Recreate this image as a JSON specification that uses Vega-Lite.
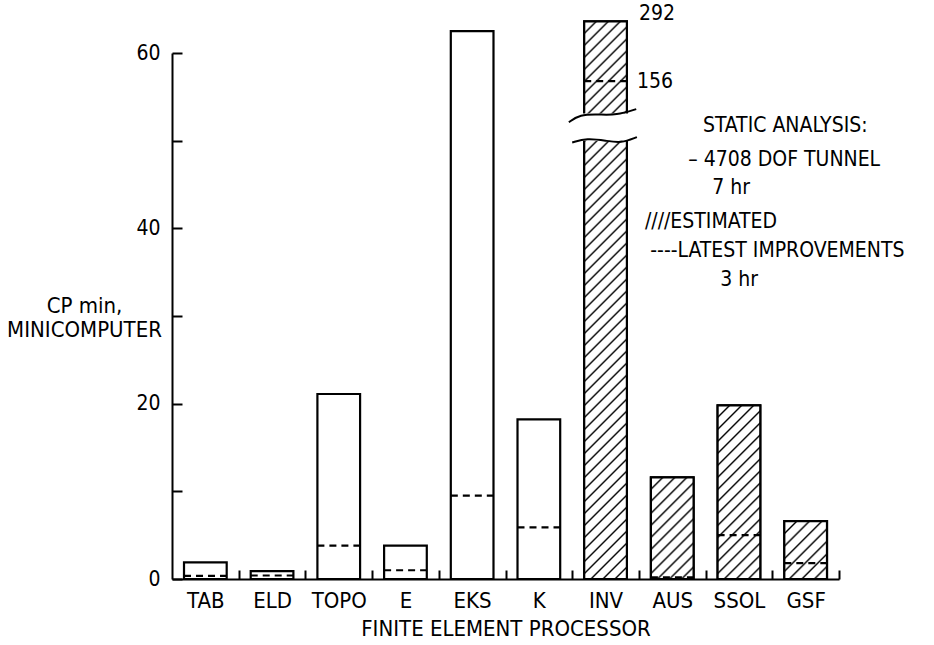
{
  "$schema": "https://vega.github.io/schema/vega-lite/v6.json",
  "width": 667,
  "height": 526,
  "autosize": {"type": "none"},
  "padding": {"left": 172, "top": 53, "right": 95, "bottom": 66},
  "background": "white",
  "config": {
    "view": {"stroke": null},
    "font": "Liberation Sans Narrow, DejaVu Sans Condensed, sans-serif",
    "axis": {
      "domainColor": "black", "domainWidth": 2, "tickColor": "black", "tickWidth": 2,
      "labelColor": "black", "titleColor": "black", "grid": false,
      "labelFont": "Liberation Sans Narrow, DejaVu Sans Condensed, sans-serif",
      "titleFont": "Liberation Sans Narrow, DejaVu Sans Condensed, sans-serif",
      "titleFontWeight": "normal"
    }
  },
  "datasets": {
    "bars": [
      {"name": "TAB", "value": 1.9, "latest": 0.35},
      {"name": "ELD", "value": 0.9, "latest": 0.4},
      {"name": "TOPO", "value": 21.1, "latest": 3.8},
      {"name": "E", "value": 3.8, "latest": 1.0},
      {"name": "EKS", "value": 62.5, "latest": 9.5},
      {"name": "K", "value": 18.2, "latest": 5.9},
      {"name": "INV", "value": 63.6, "latest": 56.8, "break_lo": 50.2, "break_hi": 52.9},
      {"name": "AUS", "value": 11.6, "latest": 0.2},
      {"name": "SSOL", "value": 19.8, "latest": 5.0},
      {"name": "GSF", "value": 6.6, "latest": 1.8}
    ],
    "waves": [
      {"wave": "upper", "pos": 5.95, "v": 52.1},
      {"wave": "upper", "pos": 6.11, "v": 53.0},
      {"wave": "upper", "pos": 6.41, "v": 53.0},
      {"wave": "upper", "pos": 6.66, "v": 52.9},
      {"wave": "upper", "pos": 6.96, "v": 53.6},
      {"wave": "lower", "pos": 6.0, "v": 49.8},
      {"wave": "lower", "pos": 6.22, "v": 50.3},
      {"wave": "lower", "pos": 6.51, "v": 50.0},
      {"wave": "lower", "pos": 6.73, "v": 49.7},
      {"wave": "lower", "pos": 6.97, "v": 50.4}
    ],
    "notes": [
      {"text": "292", "pos": 7.0, "v": 64.45},
      {"text": "156", "pos": 6.97, "v": 56.7},
      {"text": "STATIC ANALYSIS:", "pos": 7.96, "v": 51.7},
      {"text": "– 4708 DOF TUNNEL", "pos": 7.74, "v": 47.8},
      {"text": "7 hr", "pos": 8.1, "v": 44.6},
      {"text": "////ESTIMATED", "pos": 7.09, "v": 40.7},
      {"text": "----LATEST IMPROVEMENTS", "pos": 7.17, "v": 37.4},
      {"text": "3 hr", "pos": 8.22, "v": 34.1}
    ]
  },
  "resolve": {"scale": {"x": "independent"}},
  "layer": [
    {
      "data": {"name": "bars"},
      "encoding": {
        "x": {
          "field": "name", "type": "nominal", "sort": null,
          "scale": {"paddingInner": 0.36, "paddingOuter": 0.18},
          "axis": {
            "title": "FINITE ELEMENT PROCESSOR", "titleFontSize": 22,
            "titleBaseline": "alphabetic", "titleY": 56,
            "labelAngle": 0, "labelFontSize": 22, "labelPadding": 20,
            "tickOffset": 33.35, "labelOffset": -33.35, "tickSize": -9
          }
        },
        "y": {
          "field": "value", "type": "quantitative",
          "scale": {"domain": [0, 60]},
          "axis": {
            "values": [0, 10, 20, 30, 40, 50, 60],
            "labelExpr": "datum.value % 20 === 0 ? datum.label : ''",
            "labelFontSize": 21, "labelPadding": 22, "tickSize": -10,
            "title": ["CP min,", "MINICOMPUTER"], "titleAngle": 0, "titleAlign": "center",
            "titleBaseline": "alphabetic", "titleX": -88, "titleY": 259,
            "titleFontSize": 22, "titleLineHeight": 24
          }
        }
      },
      "layer": [
        {"mark": {"type": "bar", "fill": "white", "stroke": "black", "strokeWidth": 2.2}},
        {
          "transform": [{"filter": "datum.name === 'INV'"}],
          "mark": {"type": "bar", "stroke": "black", "strokeWidth": 2.2,
            "fill": {"gradient": "linear", "x1": 0, "y1": 0, "x2": 0.0819, "y2": 1.0703, "stops": [
              {"offset": 0, "color": "#fff"},
              {"offset": 0.0167, "color": "#fff"}, {"offset": 0.02, "color": "#000"}, {"offset": 0.0233, "color": "#fff"},
              {"offset": 0.0367, "color": "#fff"}, {"offset": 0.04, "color": "#000"}, {"offset": 0.0433, "color": "#fff"},
              {"offset": 0.0567, "color": "#fff"}, {"offset": 0.06, "color": "#000"}, {"offset": 0.0633, "color": "#fff"},
              {"offset": 0.0767, "color": "#fff"}, {"offset": 0.08, "color": "#000"}, {"offset": 0.0833, "color": "#fff"},
              {"offset": 0.0967, "color": "#fff"}, {"offset": 0.1, "color": "#000"}, {"offset": 0.1033, "color": "#fff"},
              {"offset": 0.1167, "color": "#fff"}, {"offset": 0.12, "color": "#000"}, {"offset": 0.1233, "color": "#fff"},
              {"offset": 0.1367, "color": "#fff"}, {"offset": 0.14, "color": "#000"}, {"offset": 0.1433, "color": "#fff"},
              {"offset": 0.1567, "color": "#fff"}, {"offset": 0.16, "color": "#000"}, {"offset": 0.1633, "color": "#fff"},
              {"offset": 0.1767, "color": "#fff"}, {"offset": 0.18, "color": "#000"}, {"offset": 0.1833, "color": "#fff"},
              {"offset": 0.1967, "color": "#fff"}, {"offset": 0.2, "color": "#000"}, {"offset": 0.2033, "color": "#fff"},
              {"offset": 0.2167, "color": "#fff"}, {"offset": 0.22, "color": "#000"}, {"offset": 0.2233, "color": "#fff"},
              {"offset": 0.2367, "color": "#fff"}, {"offset": 0.24, "color": "#000"}, {"offset": 0.2433, "color": "#fff"},
              {"offset": 0.2567, "color": "#fff"}, {"offset": 0.26, "color": "#000"}, {"offset": 0.2633, "color": "#fff"},
              {"offset": 0.2767, "color": "#fff"}, {"offset": 0.28, "color": "#000"}, {"offset": 0.2833, "color": "#fff"},
              {"offset": 0.2967, "color": "#fff"}, {"offset": 0.3, "color": "#000"}, {"offset": 0.3033, "color": "#fff"},
              {"offset": 0.3167, "color": "#fff"}, {"offset": 0.32, "color": "#000"}, {"offset": 0.3233, "color": "#fff"},
              {"offset": 0.3367, "color": "#fff"}, {"offset": 0.34, "color": "#000"}, {"offset": 0.3433, "color": "#fff"},
              {"offset": 0.3567, "color": "#fff"}, {"offset": 0.36, "color": "#000"}, {"offset": 0.3633, "color": "#fff"},
              {"offset": 0.3767, "color": "#fff"}, {"offset": 0.38, "color": "#000"}, {"offset": 0.3833, "color": "#fff"},
              {"offset": 0.3967, "color": "#fff"}, {"offset": 0.4, "color": "#000"}, {"offset": 0.4033, "color": "#fff"},
              {"offset": 0.4167, "color": "#fff"}, {"offset": 0.42, "color": "#000"}, {"offset": 0.4233, "color": "#fff"},
              {"offset": 0.4367, "color": "#fff"}, {"offset": 0.44, "color": "#000"}, {"offset": 0.4433, "color": "#fff"},
              {"offset": 0.4567, "color": "#fff"}, {"offset": 0.46, "color": "#000"}, {"offset": 0.4633, "color": "#fff"},
              {"offset": 0.4767, "color": "#fff"}, {"offset": 0.48, "color": "#000"}, {"offset": 0.4833, "color": "#fff"},
              {"offset": 0.4967, "color": "#fff"}, {"offset": 0.5, "color": "#000"}, {"offset": 0.5033, "color": "#fff"},
              {"offset": 0.5167, "color": "#fff"}, {"offset": 0.52, "color": "#000"}, {"offset": 0.5233, "color": "#fff"},
              {"offset": 0.5367, "color": "#fff"}, {"offset": 0.54, "color": "#000"}, {"offset": 0.5433, "color": "#fff"},
              {"offset": 0.5567, "color": "#fff"}, {"offset": 0.56, "color": "#000"}, {"offset": 0.5633, "color": "#fff"},
              {"offset": 0.5767, "color": "#fff"}, {"offset": 0.58, "color": "#000"}, {"offset": 0.5833, "color": "#fff"},
              {"offset": 0.5967, "color": "#fff"}, {"offset": 0.6, "color": "#000"}, {"offset": 0.6033, "color": "#fff"},
              {"offset": 0.6167, "color": "#fff"}, {"offset": 0.62, "color": "#000"}, {"offset": 0.6233, "color": "#fff"},
              {"offset": 0.6367, "color": "#fff"}, {"offset": 0.64, "color": "#000"}, {"offset": 0.6433, "color": "#fff"},
              {"offset": 0.6567, "color": "#fff"}, {"offset": 0.66, "color": "#000"}, {"offset": 0.6633, "color": "#fff"},
              {"offset": 0.6767, "color": "#fff"}, {"offset": 0.68, "color": "#000"}, {"offset": 0.6833, "color": "#fff"},
              {"offset": 0.6967, "color": "#fff"}, {"offset": 0.7, "color": "#000"}, {"offset": 0.7033, "color": "#fff"},
              {"offset": 0.7167, "color": "#fff"}, {"offset": 0.72, "color": "#000"}, {"offset": 0.7233, "color": "#fff"},
              {"offset": 0.7367, "color": "#fff"}, {"offset": 0.74, "color": "#000"}, {"offset": 0.7433, "color": "#fff"},
              {"offset": 0.7567, "color": "#fff"}, {"offset": 0.76, "color": "#000"}, {"offset": 0.7633, "color": "#fff"},
              {"offset": 0.7767, "color": "#fff"}, {"offset": 0.78, "color": "#000"}, {"offset": 0.7833, "color": "#fff"},
              {"offset": 0.7967, "color": "#fff"}, {"offset": 0.8, "color": "#000"}, {"offset": 0.8033, "color": "#fff"},
              {"offset": 0.8167, "color": "#fff"}, {"offset": 0.82, "color": "#000"}, {"offset": 0.8233, "color": "#fff"},
              {"offset": 0.8367, "color": "#fff"}, {"offset": 0.84, "color": "#000"}, {"offset": 0.8433, "color": "#fff"},
              {"offset": 0.8567, "color": "#fff"}, {"offset": 0.86, "color": "#000"}, {"offset": 0.8633, "color": "#fff"},
              {"offset": 0.8767, "color": "#fff"}, {"offset": 0.88, "color": "#000"}, {"offset": 0.8833, "color": "#fff"},
              {"offset": 0.8967, "color": "#fff"}, {"offset": 0.9, "color": "#000"}, {"offset": 0.9033, "color": "#fff"},
              {"offset": 0.9167, "color": "#fff"}, {"offset": 0.92, "color": "#000"}, {"offset": 0.9233, "color": "#fff"},
              {"offset": 0.9367, "color": "#fff"}, {"offset": 0.94, "color": "#000"}, {"offset": 0.9433, "color": "#fff"},
              {"offset": 0.9567, "color": "#fff"}, {"offset": 0.96, "color": "#000"}, {"offset": 0.9633, "color": "#fff"},
              {"offset": 0.9767, "color": "#fff"}, {"offset": 0.98, "color": "#000"}, {"offset": 0.9833, "color": "#fff"},
              {"offset": 1, "color": "#fff"}
            ]}
          }
        },
        {
          "transform": [{"filter": "datum.name === 'AUS'"}],
          "mark": {"type": "bar", "stroke": "black", "strokeWidth": 2.2,
            "fill": {"gradient": "linear", "x1": 0, "y1": 0, "x2": 0.5067, "y2": 1.2071, "stops": [
              {"offset": 0, "color": "#fff"},
              {"offset": 0.0694, "color": "#fff"}, {"offset": 0.0833, "color": "#000"}, {"offset": 0.0972, "color": "#fff"},
              {"offset": 0.1528, "color": "#fff"}, {"offset": 0.1667, "color": "#000"}, {"offset": 0.1806, "color": "#fff"},
              {"offset": 0.2361, "color": "#fff"}, {"offset": 0.25, "color": "#000"}, {"offset": 0.2639, "color": "#fff"},
              {"offset": 0.3194, "color": "#fff"}, {"offset": 0.3333, "color": "#000"}, {"offset": 0.3472, "color": "#fff"},
              {"offset": 0.4028, "color": "#fff"}, {"offset": 0.4167, "color": "#000"}, {"offset": 0.4306, "color": "#fff"},
              {"offset": 0.4861, "color": "#fff"}, {"offset": 0.5, "color": "#000"}, {"offset": 0.5139, "color": "#fff"},
              {"offset": 0.5694, "color": "#fff"}, {"offset": 0.5833, "color": "#000"}, {"offset": 0.5972, "color": "#fff"},
              {"offset": 0.6528, "color": "#fff"}, {"offset": 0.6667, "color": "#000"}, {"offset": 0.6806, "color": "#fff"},
              {"offset": 0.7361, "color": "#fff"}, {"offset": 0.75, "color": "#000"}, {"offset": 0.7639, "color": "#fff"},
              {"offset": 0.8194, "color": "#fff"}, {"offset": 0.8333, "color": "#000"}, {"offset": 0.8472, "color": "#fff"},
              {"offset": 0.9028, "color": "#fff"}, {"offset": 0.9167, "color": "#000"}, {"offset": 0.9306, "color": "#fff"},
              {"offset": 1, "color": "#fff"}
            ]}
          }
        },
        {
          "transform": [{"filter": "datum.name === 'SSOL'"}],
          "mark": {"type": "bar", "stroke": "black", "strokeWidth": 2.2,
            "fill": {"gradient": "linear", "x1": 0, "y1": 0, "x2": 0.2889, "y2": 1.1749, "stops": [
              {"offset": 0, "color": "#fff"},
              {"offset": 0.0463, "color": "#fff"}, {"offset": 0.0556, "color": "#000"}, {"offset": 0.0649, "color": "#fff"},
              {"offset": 0.1018, "color": "#fff"}, {"offset": 0.1111, "color": "#000"}, {"offset": 0.1204, "color": "#fff"},
              {"offset": 0.1574, "color": "#fff"}, {"offset": 0.1667, "color": "#000"}, {"offset": 0.176, "color": "#fff"},
              {"offset": 0.2129, "color": "#fff"}, {"offset": 0.2222, "color": "#000"}, {"offset": 0.2315, "color": "#fff"},
              {"offset": 0.2685, "color": "#fff"}, {"offset": 0.2778, "color": "#000"}, {"offset": 0.2871, "color": "#fff"},
              {"offset": 0.324, "color": "#fff"}, {"offset": 0.3333, "color": "#000"}, {"offset": 0.3426, "color": "#fff"},
              {"offset": 0.3796, "color": "#fff"}, {"offset": 0.3889, "color": "#000"}, {"offset": 0.3982, "color": "#fff"},
              {"offset": 0.4351, "color": "#fff"}, {"offset": 0.4444, "color": "#000"}, {"offset": 0.4537, "color": "#fff"},
              {"offset": 0.4907, "color": "#fff"}, {"offset": 0.5, "color": "#000"}, {"offset": 0.5093, "color": "#fff"},
              {"offset": 0.5463, "color": "#fff"}, {"offset": 0.5556, "color": "#000"}, {"offset": 0.5649, "color": "#fff"},
              {"offset": 0.6018, "color": "#fff"}, {"offset": 0.6111, "color": "#000"}, {"offset": 0.6204, "color": "#fff"},
              {"offset": 0.6574, "color": "#fff"}, {"offset": 0.6667, "color": "#000"}, {"offset": 0.676, "color": "#fff"},
              {"offset": 0.7129, "color": "#fff"}, {"offset": 0.7222, "color": "#000"}, {"offset": 0.7315, "color": "#fff"},
              {"offset": 0.7685, "color": "#fff"}, {"offset": 0.7778, "color": "#000"}, {"offset": 0.7871, "color": "#fff"},
              {"offset": 0.824, "color": "#fff"}, {"offset": 0.8333, "color": "#000"}, {"offset": 0.8426, "color": "#fff"},
              {"offset": 0.8796, "color": "#fff"}, {"offset": 0.8889, "color": "#000"}, {"offset": 0.8982, "color": "#fff"},
              {"offset": 0.9351, "color": "#fff"}, {"offset": 0.9444, "color": "#000"}, {"offset": 0.9537, "color": "#fff"},
              {"offset": 1, "color": "#fff"}
            ]}
          }
        },
        {
          "transform": [{"filter": "datum.name === 'GSF'"}],
          "mark": {"type": "bar", "stroke": "black", "strokeWidth": 2.2,
            "fill": {"gradient": "linear", "x1": 0, "y1": 0, "x2": 0.8302, "y2": 1.1253, "stops": [
              {"offset": 0, "color": "#fff"},
              {"offset": 0.105, "color": "#fff"}, {"offset": 0.125, "color": "#000"}, {"offset": 0.145, "color": "#fff"},
              {"offset": 0.23, "color": "#fff"}, {"offset": 0.25, "color": "#000"}, {"offset": 0.27, "color": "#fff"},
              {"offset": 0.355, "color": "#fff"}, {"offset": 0.375, "color": "#000"}, {"offset": 0.395, "color": "#fff"},
              {"offset": 0.48, "color": "#fff"}, {"offset": 0.5, "color": "#000"}, {"offset": 0.52, "color": "#fff"},
              {"offset": 0.605, "color": "#fff"}, {"offset": 0.625, "color": "#000"}, {"offset": 0.645, "color": "#fff"},
              {"offset": 0.73, "color": "#fff"}, {"offset": 0.75, "color": "#000"}, {"offset": 0.77, "color": "#fff"},
              {"offset": 0.855, "color": "#fff"}, {"offset": 0.875, "color": "#000"}, {"offset": 0.895, "color": "#fff"},
              {"offset": 1, "color": "#fff"}
            ]}
          }
        },
        {
          "mark": {"type": "rule", "stroke": "black", "strokeWidth": 2.2, "strokeDash": [7, 5]},
          "encoding": {
            "x": {"field": "name", "type": "nominal", "sort": null, "bandPosition": 0},
            "x2": {"field": "name", "bandPosition": 1},
            "y": {"field": "latest", "type": "quantitative", "scale": {"domain": [0, 60]}}
          }
        },
        {
          "transform": [{"filter": "datum.name === 'INV'"}],
          "mark": {"type": "bar", "fill": "white", "stroke": "white", "strokeWidth": 3.5},
          "encoding": {
            "y": {"field": "break_lo", "type": "quantitative", "scale": {"domain": [0, 60]}},
            "y2": {"field": "break_hi"}
          }
        }
      ]
    },
    {
      "encoding": {
        "x": {"field": "pos", "type": "quantitative", "scale": {"domain": [0, 10], "nice": false, "zero": false}, "axis": null},
        "y": {"field": "v", "type": "quantitative", "scale": {"domain": [0, 60]}}
      },
      "layer": [
        {
          "data": {"name": "waves"},
          "mark": {"type": "line", "stroke": "black", "strokeWidth": 2, "interpolate": "basis"},
          "encoding": {"detail": {"field": "wave", "type": "nominal"}}
        },
        {
          "data": {"name": "notes"},
          "mark": {"type": "text", "align": "left", "baseline": "middle", "fontSize": 21, "fill": "black",
            "font": "Liberation Sans Narrow, DejaVu Sans Condensed, sans-serif"},
          "encoding": {"text": {"field": "text", "type": "nominal"}}
        }
      ]
    }
  ]
}
